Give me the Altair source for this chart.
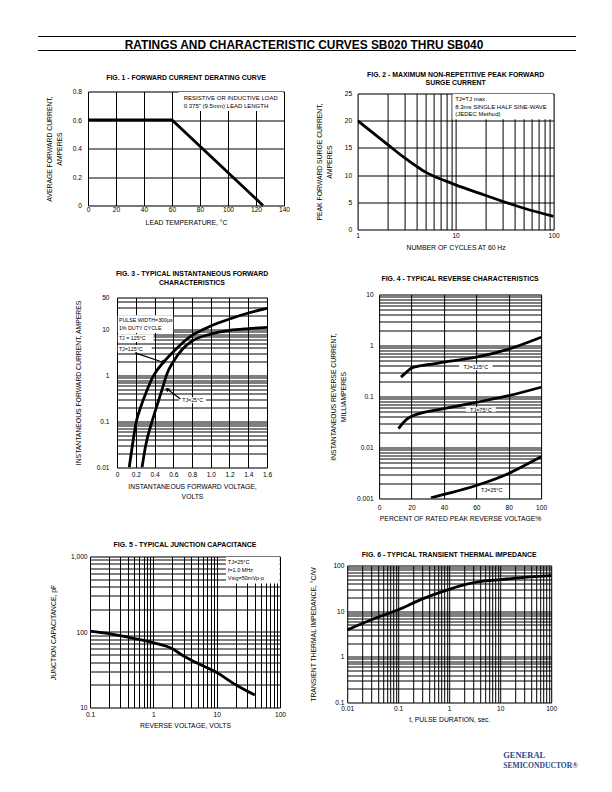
import altair as alt
import pandas as pd

FONT = "Liberation Sans"

# ---------------- data ----------------
HEADER = "RATINGS AND CHARACTERISTIC CURVES SB020 THRU SB040"

# Fig. 1
f1_title = "FIG. 1 - FORWARD CURRENT DERATING CURVE"
f1_temp = [0, 60, 125]
f1_amps = [0.6, 0.6, 0.0]
f1_xticks = [0, 20, 40, 60, 80, 100, 120, 140]
f1_xlabels = ["0", "20", "40", "60", "80", "100", "120", "140"]
f1_yticks = [0, 0.2, 0.4, 0.6, 0.8]
f1_ylabels = ["0", "0.2", "0.4", "0.6", "0.8"]
f1_notes = ["RESISTIVE OR INDUCTIVE LOAD", '0.375" (9.5mm) LEAD LENGTH']
f1_note_x = [68.4, 68.4]
f1_note_y = [0.751, 0.699]
f1_box_x = [64.8, 139.4]
f1_box_y = [0.663, 0.797]

# Fig. 2
f2_title = ["FIG. 2 - MAXIMUM NON-REPETITIVE PEAK FORWARD", "SURGE CURRENT"]
f2_cycles = [1, 2, 3, 4, 5, 6, 8, 10, 20, 30, 50, 100]
f2_surge = [20, 15.7, 13.2, 11.6, 10.5, 9.8, 8.9, 8.2, 6.3, 5.2, 3.9, 2.4]
f2_xlab_vals = [1, 10, 100]
f2_xlabels = ["1", "10", "100"]
f2_yticks = [0, 5, 10, 15, 20, 25]
f2_ylabels = ["0", "5", "10", "15", "20", "25"]
f2_notes = ["TJ=TJ max.", "8.3ms SINGLE HALF SINE-WAVE", "(JEDEC Method)"]
f2_note_x = [9.9, 9.9, 9.9]
f2_note_y = [23.96, 22.6, 21.2]
f2_box_x = [9.3, 98.5]
f2_box_y = [20.27, 24.9]

# Fig. 3
f3_title = ["FIG. 3 - TYPICAL INSTANTANEOUS FORWARD", "CHARACTERISTICS"]
f3_v125 = [0.13, 0.164, 0.206, 0.25, 0.3, 0.39, 0.5, 0.6, 0.8, 0.917, 1.0, 1.2, 1.4, 1.6]
f3_i125 = [0.01, 0.03, 0.1, 0.2, 0.38, 1.0, 2.0, 3.3, 7.5, 10, 12, 17, 23, 29]
f3_v25 = [0.267, 0.306, 0.373, 0.4, 0.5, 0.526, 0.6, 0.7, 0.8, 1.0, 1.2, 1.4, 1.6]
f3_i25 = [0.01, 0.03, 0.1, 0.15, 0.67, 1.0, 2.0, 3.8, 5.6, 8.0, 9.6, 10.5, 11.2]
f3_xticks = [0, 0.2, 0.4, 0.6, 0.8, 1.0, 1.2, 1.4, 1.6]
f3_xlabels = ["0", "0.2", "0.4", "0.6", "0.8", "1.0", "1.2", "1.4", "1.6"]
f3_ylab_vals = [0.01, 0.1, 1, 10, 50]
f3_ylabels = ["0.01", "0.1", "1", "10", "50"]
f3_notes = ["PULSE WIDTH=300\u00b5s", "1% DUTY CYCLE", "TJ = 125\u00b0C", "TJ=125\u00b0C", "TJ=25\u00b0C"]
f3_note_x = [0.02, 0.02, 0.02, 0.02, 0.695]
f3_note_y = [16.1, 10.8, 6.5, 3.85, 0.292]
f3_box_x = [0.008, 0.008, 0.008, 0.66]
f3_box_x2 = [0.6, 0.39, 0.37, 0.95]
f3_box_y = [8.4, 5.4, 3.2, 0.25]
f3_box_y2 = [20.6, 7.9, 4.6, 0.34]
f3_arrow_x = [0.193, 0.498, 0.677, 0.534]
f3_arrow_y = [3.13, 1.93, 0.308, 0.508]
f3_arrow_id = ["a", "a", "b", "b"]
f3_head_x = [0.498, 0.534]
f3_head_y = [1.93, 0.508]
f3_head_angle = [19.5, 217]

# Fig. 4
f4_title = "FIG. 4 - TYPICAL REVERSE CHARACTERISTICS"
f4_p125 = [13.5, 16.4, 20, 30, 40, 60, 80, 100]
f4_i125 = [0.24, 0.29, 0.36, 0.42, 0.47, 0.59, 0.85, 1.45]
f4_p75 = [12, 15, 20, 40, 60, 80, 100]
f4_i75 = [0.0235, 0.031, 0.041, 0.058, 0.077, 0.104, 0.152]
f4_p25 = [32, 40, 60, 80, 90, 100]
f4_i25 = [0.00103, 0.0012, 0.0018, 0.0031, 0.0045, 0.0066]
f4_xticks = [0, 20, 40, 60, 80, 100]
f4_xlabels = ["0", "20", "40", "60", "80", "100"]
f4_ylab_vals = [0.001, 0.01, 0.1, 1, 10]
f4_ylabels = ["0.001", "0.01", "0.1", "1", "10"]
f4_notes = ["TJ=125\u00b0C", "TJ=75\u00b0C", "TJ=25\u00b0C"]
f4_note_x = [59.7, 62.8, 69.5]
f4_note_y = [0.382, 0.0556, 0.00146]
f4_box_x = [49.4, 53.5, 62.8]
f4_box_x2 = [70, 72, 76.1]
f4_box_y = [0.328, 0.0501, 0.00129]
f4_box_y2 = [0.437, 0.0617, 0.00164]

# Fig. 5
f5_title = "FIG. 5 - TYPICAL JUNCTION CAPACITANCE"
f5_volts = [0.1, 0.2, 0.5, 1, 2, 3, 5, 10, 20, 40]
f5_pf = [103, 95, 82, 72, 60, 48, 38.5, 29, 20, 14.6]
f5_xlab_vals = [0.1, 1, 10, 100]
f5_xlabels = ["0.1", "1", "10", "100"]
f5_ylab_vals = [10, 100, 1000]
f5_ylabels = ["10", "100", "1,000"]
f5_notes = ["TJ=25\u00b0C", "f=1.0 MHz", "Vsig=50mVp-p"]
f5_note_x = [15.0, 15.0, 15.0]
f5_note_y = [834, 655, 513]
f5_box_x = [14, 98.5]
f5_box_y = [440, 985]

# Fig. 6
f6_title = "FIG. 6 - TYPICAL TRANSIENT THERMAL IMPEDANCE"
f6_t = [0.01, 0.03, 0.1, 0.3, 1, 2, 5, 10, 30, 100]
f6_z = [3.9, 6.5, 10.7, 18.6, 30, 38, 46, 49, 55, 60]
f6_xlab_vals = [0.01, 0.1, 1, 10, 100]
f6_xlabels = ["0.01", "0.1", "1", "10", "100"]
f6_ylab_vals = [0.1, 1, 10, 100]
f6_ylabels = ["0.1", "1", "10", "100"]

LOGO_1 = "GENERAL"
LOGO_2 = "SEMICONDUCTOR\u00ae"


# ---------------- helpers ----------------
def decades(lo, hi, extra=()):
    vals = []
    for e in range(lo, hi):
        for k in range(1, 10):
            v = k * 10 ** e
            vals.append(int(v) if e >= 0 else round(v, 10))
    vals.append(int(10 ** hi) if hi >= 0 else round(10 ** hi, 10))
    vals.extend(extra)
    return vals


def label_expr(vals, labs):
    parts = [f"datum.value == {v} ? '{l}'" for v, l in zip(vals, labs)]
    return " : ".join(parts) + " : ''"


def mk_axis(grid_vals, lab_vals, labs, title, label_pad, title_x=None, title_y=None, title_lh=10):
    kw = dict(title=title, values=grid_vals, labelExpr=label_expr(lab_vals, labs),
              grid=True, gridColor="black", gridWidth=1.0, gridOpacity=1,
              ticks=False, tickSize=0, domain=False, labelOverlap=False, labelFlush=False,
              labelBound=False, labelFont=FONT, labelFontSize=6.6, labelColor="black",
              labelPadding=label_pad, titleFont=FONT, titleFontSize=6.8,
              titleFontWeight="normal", titleColor="black", titleLineHeight=title_lh)
    if title_x is not None:
        kw["titleX"] = title_x
    if title_y is not None:
        kw["titleY"] = title_y
    return alt.Axis(**kw)


def encoders(xscale, xaxis, yscale, yaxis):
    def X(f):
        return alt.X(f, type="quantitative", scale=xscale, axis=xaxis)

    def Y(f):
        return alt.Y(f, type="quantitative", scale=yscale, axis=yaxis)
    return X, Y


def curves(df, X, Y, detail=None):
    enc = dict(x=X("x"), y=Y("y"))
    if detail:
        enc["detail"] = alt.Detail(detail, type="nominal")
    return alt.Chart(df).mark_line(color="black", strokeWidth=2.8, interpolate="monotone",
                                   clip=True).encode(**enc)


def boxes(x, x2, y, y2, X, Y):
    df = pd.DataFrame({"x": x, "x2": x2, "y": y, "y2": y2})
    return alt.Chart(df).mark_rect(color="white").encode(x=X("x"), x2="x2", y=Y("y"), y2="y2")


def notes(texts, xs, ys, X, Y, size, align="left"):
    df = pd.DataFrame({"x": xs, "y": ys, "t": texts})
    return alt.Chart(df).mark_text(align=align, baseline="middle", font=FONT, fontSize=size,
                                   color="black").encode(x=X("x"), y=Y("y"), text="t:N")


def ttl(text, lh, off):
    return alt.TitleParams(text=text, lineHeight=lh, offset=off, font=FONT, fontSize=6.9,
                           fontWeight="bold", color="black", anchor="middle", frame="group")


# ---------------- Fig 1 ----------------
X1, Y1 = encoders(
    alt.Scale(domain=[0, 140], nice=False, zero=False),
    mk_axis(f1_xticks, f1_xticks, f1_xlabels, "LEAD TEMPERATURE, \u00b0C", 1.2, title_y=13.5),
    alt.Scale(domain=[0, 0.8], nice=False),
    mk_axis(f1_yticks, f1_yticks, f1_ylabels, ["AVERAGE FORWARD CURRENT,", "AMPERES"], 6.6, title_x=-35.1),
)
f1 = alt.layer(
    alt.Chart(pd.DataFrame({"x": f1_temp, "y": f1_amps})).mark_line(color="black", strokeWidth=2.8).encode(x=X1("x"), y=Y1("y")),
    boxes([f1_box_x[0]], [f1_box_x[1]], [f1_box_y[0]], [f1_box_y[1]], X1, Y1),
    notes(f1_notes, f1_note_x, f1_note_y, X1, Y1, 6.0),
).properties(width=196, height=114, title=ttl(f1_title, 8.4, 6.5))

# ---------------- Fig 2 ----------------
X2, Y2 = encoders(
    alt.Scale(type="log", domain=[1, 100], nice=False),
    mk_axis(decades(0, 2), f2_xlab_vals, f2_xlabels, "NUMBER OF CYCLES AT 60 Hz", 3.2, title_y=14.5),
    alt.Scale(domain=[0, 25], nice=False),
    mk_axis(f2_yticks, f2_yticks, f2_ylabels, ["PEAK FORWARD SURGE CURRENT,", "AMPERES"], 6.0, title_x=-35.1),
)
f2 = alt.layer(
    curves(pd.DataFrame({"x": f2_cycles, "y": f2_surge}), X2, Y2),
    boxes([f2_box_x[0]], [f2_box_x[1]], [f2_box_y[0]], [f2_box_y[1]], X2, Y2),
    notes(f2_notes, f2_note_x, f2_note_y, X2, Y2, 6.0),
).properties(width=196, height=136, title=ttl(f2_title, 8.4, 3.5))

# ---------------- Fig 3 ----------------
X3, Y3 = encoders(
    alt.Scale(domain=[0, 1.6], nice=False, zero=False),
    mk_axis(f3_xticks, f3_xticks, f3_xlabels, ["INSTANTANEOUS FORWARD VOLTAGE,", "VOLTS"], 3.6, title_y=16.2),
    alt.Scale(type="log", domain=[0.01, 50], nice=False),
    mk_axis(decades(-2, 1, extra=[20, 30, 40, 50]), f3_ylab_vals, f3_ylabels,
            "INSTANTANEOUS FORWARD CURRENT, AMPERES", 8.0, title_x=-35.5),
)
f3_df = pd.DataFrame({"x": f3_v125 + f3_v25, "y": f3_i125 + f3_i25,
                      "s": ["125"] * len(f3_v125) + ["25"] * len(f3_v25)})
f3 = alt.layer(
    curves(f3_df, X3, Y3, detail="s"),
    boxes(f3_box_x, f3_box_x2, f3_box_y, f3_box_y2, X3, Y3),
    notes(f3_notes, f3_note_x, f3_note_y, X3, Y3, 5.3),
    alt.Chart(pd.DataFrame({"x": f3_arrow_x, "y": f3_arrow_y, "a": f3_arrow_id})).mark_line(
        color="black", strokeWidth=1.2).encode(x=X3("x"), y=Y3("y"), detail="a:N"),
    alt.Chart(pd.DataFrame({"x": f3_head_x, "y": f3_head_y, "ang": f3_head_angle})).mark_point(
        shape="triangle-right", filled=True, color="black", size=22, opacity=1).encode(
        x=X3("x"), y=Y3("y"), angle=alt.Angle("ang:Q", scale=None)),
).properties(width=150, height=170, title=ttl(f3_title, 9.0, 7.6))

# ---------------- Fig 4 ----------------
X4, Y4 = encoders(
    alt.Scale(domain=[0, 100], nice=False, zero=False),
    mk_axis(f4_xticks, f4_xticks, f4_xlabels, "PERCENT OF RATED PEAK REVERSE VOLTAGE%", 5.7, title_y=16.7),
    alt.Scale(type="log", domain=[0.001, 10], nice=False),
    mk_axis(decades(-3, 1), f4_ylab_vals, f4_ylabels,
            ["INSTANTANEOUS REVERSE CURRENT,", "MILLIAMPERES"], 6.0, title_x=-42.5),
)
f4_df = pd.DataFrame({"x": f4_p125 + f4_p75 + f4_p25, "y": f4_i125 + f4_i75 + f4_i25,
                      "s": ["125"] * len(f4_p125) + ["75"] * len(f4_p75) + ["25"] * len(f4_p25)})
f4 = alt.layer(
    curves(f4_df, X4, Y4, detail="s"),
    boxes(f4_box_x, f4_box_x2, f4_box_y, f4_box_y2, X4, Y4),
    notes(f4_notes, f4_note_x, f4_note_y, X4, Y4, 5.5, align="center"),
).properties(width=162, height=204, title=ttl(f4_title, 8.4, 8.3))

# ---------------- Fig 5 ----------------
X5, Y5 = encoders(
    alt.Scale(type="log", domain=[0.1, 100], nice=False),
    mk_axis(decades(-1, 2), f5_xlab_vals, f5_xlabels, "REVERSE VOLTAGE, VOLTS", 3.5, title_y=15.2),
    alt.Scale(type="log", domain=[10, 1000], nice=False),
    mk_axis(decades(1, 3), f5_ylab_vals, f5_ylabels, "JUNCTION CAPACITANCE, pF", 3.0, title_x=-33.5),
)
f5 = alt.layer(
    curves(pd.DataFrame({"x": f5_volts, "y": f5_pf}), X5, Y5),
    boxes([f5_box_x[0]], [f5_box_x[1]], [f5_box_y[0]], [f5_box_y[1]], X5, Y5),
    notes(f5_notes, f5_note_x, f5_note_y, X5, Y5, 5.5),
).properties(width=190, height=151, title=ttl(f5_title, 8.4, 4.6))

# ---------------- Fig 6 ----------------
X6, Y6 = encoders(
    alt.Scale(type="log", domain=[0.01, 100], nice=False),
    mk_axis(decades(-2, 2), f6_xlab_vals, f6_xlabels, "t, PULSE DURATION, sec.", 3.2, title_y=14.2),
    alt.Scale(type="log", domain=[0.1, 100], nice=False),
    mk_axis(decades(-1, 2), f6_ylab_vals, f6_ylabels, "TRANSIENT THERMAL IMPEDANCE, \u00b0C/W", 3.3, title_x=-30.8),
)
logo_df = pd.DataFrame({"a": [LOGO_1], "b": [LOGO_2]})
f6 = alt.layer(
    curves(pd.DataFrame({"x": f6_t, "y": f6_z}), X6, Y6),
    alt.Chart(logo_df).mark_text(align="left", baseline="middle", font="Liberation Serif",
                                 fontSize=8.5, fontWeight="bold", color="#2b4a8b").encode(
        x=alt.value(156), y=alt.value(189), text="a:N"),
    alt.Chart(logo_df).mark_text(align="left", baseline="middle", font="Liberation Serif",
                                 fontSize=7.6, fontWeight="bold", color="#2b4a8b").encode(
        x=alt.value(156), y=alt.value(200), text="b:N"),
).properties(width=204, height=137, title=ttl(f6_title, 8.4, 4.0))

# ---------------- page layout ----------------
hdr_df = pd.DataFrame({"t": [HEADER]})
header = alt.layer(
    alt.Chart(hdr_df).mark_rule(color="black", strokeWidth=1).encode(
        x=alt.value(0), x2=alt.value(538), y=alt.value(0)),
    alt.Chart(hdr_df).mark_rule(color="black", strokeWidth=1).encode(
        x=alt.value(0), x2=alt.value(538), y=alt.value(14)),
    alt.Chart(hdr_df).mark_text(font=FONT, fontSize=11.9, fontWeight="bold", color="black").encode(
        x=alt.value(266), y=alt.value(8.3), text="t:N"),
).properties(width=538, height=14, view=alt.ViewBackground(stroke=None))


def blank(w, h):
    return alt.Chart(pd.DataFrame({"a": [0]})).mark_point(opacity=0, size=0).encode(
        x=alt.value(0), y=alt.value(0)).properties(width=w, height=h,
                                                    view=alt.ViewBackground(stroke=None))


def cell(fig, drop):
    # shift a figure down inside its row by 'drop' pixels
    return alt.vconcat(blank(1, drop), fig, spacing=0)


row1 = alt.hconcat(blank(7.7, 1), alt.hconcat(cell(f1, 4.4), cell(f2, 1.0), spacing=24.6), spacing=0)
row2 = alt.hconcat(blank(35.3, 1), alt.hconcat(cell(f3, 1.0), cell(f4, 6.0), spacing=57.1), spacing=0)
row3 = alt.hconcat(blank(12.0, 1), alt.hconcat(cell(f5, 1.0), cell(f6, 10.0), spacing=22.2), spacing=0)

chart = alt.vconcat(header, row1, row2, row3, spacing=17).properties(
    padding={"left": 29, "top": 27.5, "right": 0, "bottom": 0}
).configure_view(stroke="black", strokeWidth=1).configure(background="white")

chart.save("out.html", embed_options={"renderer": "svg", "actions": False})
